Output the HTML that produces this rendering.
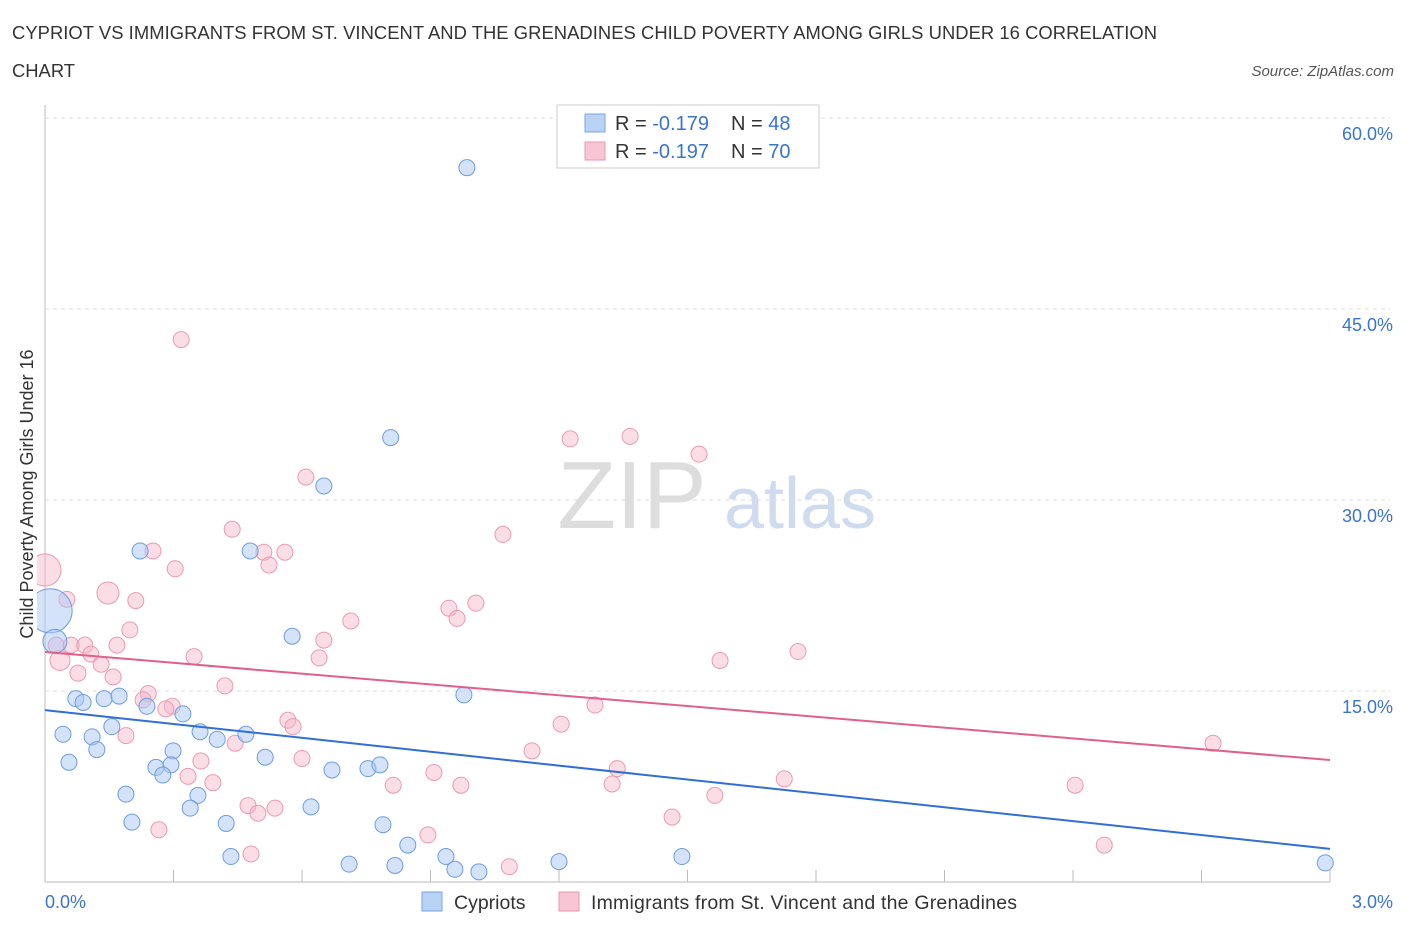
<!DOCTYPE html>
<html><head><meta charset="utf-8"><style>
body{margin:0;background:#fff;font-family:"Liberation Sans",sans-serif;}
svg text{font-family:"Liberation Sans",sans-serif;}
</style></head><body>
<svg id="c" width="1406" height="930">
<defs><clipPath id="pc"><rect x="37" y="100" width="1360" height="790"/></clipPath></defs>
<text x="12" y="39" font-size="18.4" fill="#333" textLength="1145">CYPRIOT VS IMMIGRANTS FROM ST. VINCENT AND THE GRENADINES CHILD POVERTY AMONG GIRLS UNDER 16 CORRELATION</text>
<text x="12" y="77" font-size="18.4" fill="#333">CHART</text>
<text x="1394" y="76" font-size="15" fill="#555" font-style="italic" text-anchor="end">Source: ZipAtlas.com</text>
<text x="632" y="528" font-size="96" fill="#ddd" font-family="Liberation Serif" text-anchor="middle">ZIP</text>
<text x="800" y="528" font-size="72" fill="#cfdcf0" text-anchor="middle">atlas</text>
<text transform="translate(33,494) rotate(-90)" font-size="18" fill="#333" text-anchor="middle">Child Poverty Among Girls Under 16</text>
<g id="grid"></g><g id="pts" clip-path="url(#pc)"></g><g id="lines"></g>
<g>
<rect x="557" y="105" width="262" height="63" fill="#fff" stroke="#ccc"/>
<rect x="585" y="114" width="20" height="18" fill="#b9d3f5" stroke="#7aa6e0"/>
<text x="615" y="130" font-size="20" fill="#333">R = <tspan fill="#3a74d0">-0.179</tspan></text>
<text x="731" y="130" font-size="20" fill="#333">N = <tspan fill="#3a74d0">48</tspan></text>
<rect x="585" y="142" width="20" height="18" fill="#f7c5d3" stroke="#e897ad"/>
<text x="615" y="158" font-size="20" fill="#333">R = <tspan fill="#3a74d0">-0.197</tspan></text>
<text x="731" y="158" font-size="20" fill="#333">N = <tspan fill="#3a74d0">70</tspan></text>
</g>
<rect x="422" y="892" width="20" height="19" fill="#b9d3f5" stroke="#7aa6e0"/>
<text x="454" y="909" font-size="19.5" fill="#333">Cypriots</text>
<rect x="559" y="892" width="20" height="19" fill="#f7c5d3" stroke="#e897ad"/>
<text x="591" y="909" font-size="19.5" fill="#333" textLength="426">Immigrants from St. Vincent and the Grenadines</text>
</svg>
<script>
const yTicks=[15,30,45,60];
const xTickLabels=["0.0%","3.0%"];
const blueX=[0.985,0.807,0.651,0.222,0.479,0.577,0.978,0.012,0.023,0.072,0.089,0.138,0.173,0.238,0.322,0.156,0.042,0.110,0.362,0.402,0.469,0.121,0.299,0.514,0.056,0.259,0.294,0.275,0.670,0.754,0.782,0.189,0.357,0.339,0.621,0.203,0.423,0.789,0.847,0.434,0.710,0.817,0.936,0.957,1.013,1.200,1.487,2.989];
const blueY=[56.1,34.9,31.1,26.0,26.0,19.3,14.7,21.3,18.9,14.4,14.1,14.4,14.6,13.8,13.2,12.2,11.6,11.4,11.8,11.2,11.6,10.4,10.3,9.8,9.4,9.0,9.2,8.4,8.8,8.9,9.2,6.9,6.8,5.8,5.9,4.7,4.6,4.5,2.9,2.0,1.4,1.3,2.0,1.0,0.8,1.6,2.0,1.5];
const pinkX=[0.318,1.226,1.366,1.527,0.609,1.069,0.437,0.252,0.511,0.560,0.523,0.304,0.0,0.147,0.051,0.212,0.943,1.006,0.962,0.714,0.198,0.651,0.026,0.061,0.093,0.168,0.107,0.035,0.640,1.758,0.348,0.131,1.576,0.077,0.159,0.420,0.241,0.229,0.297,0.282,1.284,0.567,0.579,1.205,0.189,0.444,1.137,0.364,0.600,1.336,0.334,0.908,0.971,0.392,0.813,1.324,1.726,2.405,2.727,1.564,0.474,0.537,0.497,1.464,0.894,0.266,2.473,0.481,1.084];
const pinkY=[42.6,34.8,35.0,33.6,31.8,27.3,27.7,26.0,25.9,25.9,24.9,24.6,24.5,22.7,22.2,22.1,21.5,21.9,20.7,20.5,19.8,19.0,18.6,18.6,18.6,18.6,17.9,17.4,17.6,18.1,17.7,17.1,17.4,16.4,16.1,15.4,14.8,14.3,13.8,13.6,13.9,12.7,12.2,12.4,11.5,10.9,10.3,9.5,9.7,8.9,8.3,8.6,7.6,7.8,7.6,7.7,8.1,7.6,10.9,6.8,6.0,5.8,5.4,5.1,3.7,4.1,2.9,2.2,1.2];
const blueSize=[8,8,8,8,8,8,8,22,12,8,8,8,8,8,8,8,8,8,8,8,8,8,8,8,8,8,8,8,8,8,8,8,8,8,8,8,8,8,8,8,8,8,8,8,8,8,8,8];
const pinkBig={12:16,13:11,27:10};
const blueTrend=[13.5,2.6], pinkTrend=[18.06,9.58];
const X=v=>45+v*428.33, Y=v=>882-v*12.733;
const ns="http://www.w3.org/2000/svg";
function mk(t,a,p){const e=document.createElementNS(ns,t);for(const k in a)e.setAttribute(k,a[k]);p.appendChild(e);return e;}
const g=document.getElementById('grid');
mk('line',{x1:45,y1:105,x2:45,y2:882,stroke:'#bbb'},g);
mk('line',{x1:45,y1:882,x2:1330,y2:882,stroke:'#bbb'},g);
for(let i=1;i<=10;i++){const l=mk('line',{x1:X(i*0.3),y1:870,x2:X(i*0.3),y2:882,stroke:'#bbb'},g);}
yTicks.forEach(v=>{const l=mk('line',{x1:45,y1:Y(v),x2:1390,y2:Y(v),stroke:'#ddd','stroke-dasharray':'4,4'},g);
const t=mk('text',{x:1393,y:Y(v)+22,'font-size':18,fill:'#3a74d0','text-anchor':'end'},g);t.textContent=v.toFixed(1)+'%';});
[[0,45,'start'],[1,1393,'end']].forEach(([i,x,a])=>{const t=mk('text',{x:x,y:908,'font-size':18,fill:'#3a74d0','text-anchor':a},g);t.textContent=xTickLabels[i];});
const p=document.getElementById('pts');
pinkX.forEach((x,i)=>{const c=mk('circle',{cx:X(x),cy:Y(pinkY[i]),r:pinkBig[i]||8,fill:'rgba(247,180,200,0.45)',stroke:'#eb9ab3','stroke-width':1},p);});
blueX.forEach((x,i)=>{const c=mk('circle',{cx:X(x),cy:Y(blueY[i]),r:blueSize[i],fill:'rgba(170,200,245,0.5)',stroke:'#6d9de0','stroke-width':1},p);});
const L=document.getElementById('lines');
const b=mk('line',{x1:X(0),y1:Y(blueTrend[0]),x2:X(3),y2:Y(blueTrend[1]),stroke:'#2f6fd6','stroke-width':2},L);

const q=mk('line',{x1:X(0),y1:Y(pinkTrend[0]),x2:X(3),y2:Y(pinkTrend[1]),stroke:'#e0608a','stroke-width':2},L);

</script>
</body></html>
